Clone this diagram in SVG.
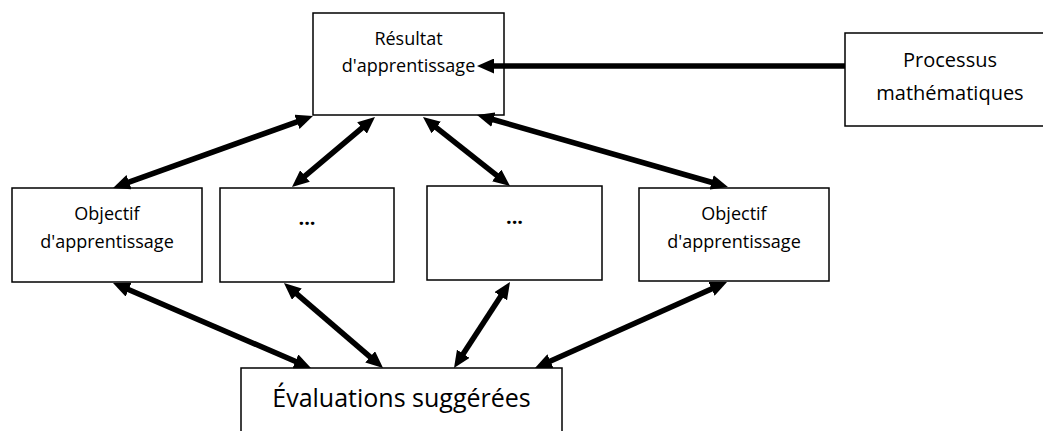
<svg xmlns="http://www.w3.org/2000/svg" width="1043" height="431" viewBox="0 0 1043 431">
<style>
.box{fill:#fff;stroke:#000;stroke-width:1.5}
.t{font-family:"Open Sans","Liberation Sans",sans-serif;font-size:18px;fill:#000;text-anchor:middle}
.dots{font-size:20px;font-weight:bold}
.c line{stroke:#000;stroke-width:5.5;marker-end:url(#ah)}
.c line.bi{marker-start:url(#ah)}
</style>
<defs>
<marker id="ah" viewBox="0 0 17 15" markerWidth="17" markerHeight="15" refX="6" refY="7.5" markerUnits="userSpaceOnUse" orient="auto-start-reverse">
<path d="M0,0 L17,7.5 L0,15 z" fill="#000"/>
</marker>
</defs>
<rect width="1043" height="431" fill="#fff"/>
<g id="resultat">
<rect class="box" x="313" y="13" width="191" height="102"/>
<text class="t" x="408.5" y="45">Résultat</text>
<text class="t" x="408.5" y="72">d'apprentissage</text>
</g>
<g id="processus">
<rect class="box" x="845" y="33" width="215" height="93"/>
<text class="t" x="950" y="67" style="font-size:20px">Processus</text>
<text class="t" x="950" y="100" style="font-size:20px">mathématiques</text>
</g>
<g id="objectif1">
<rect class="box" x="12" y="188" width="190" height="94"/>
<text class="t" x="107" y="220">Objectif</text>
<text class="t" x="107" y="248">d'apprentissage</text>
</g>
<g id="autre1">
<rect class="box" x="220" y="188" width="174" height="94"/>
<text class="t dots" x="307" y="225">...</text>
</g>
<g id="autre2">
<rect class="box" x="427" y="186" width="175" height="94"/>
<text class="t dots" x="514.5" y="224">...</text>
</g>
<g id="objectif2">
<rect class="box" x="639" y="188" width="190" height="93"/>
<text class="t" x="734" y="220">Objectif</text>
<text class="t" x="734" y="248">d'apprentissage</text>
</g>
<g id="evaluations">
<rect class="box" x="241" y="368" width="321" height="80"/>
<text class="t" x="401.5" y="407" style="font-size:25px">Évaluations suggérées</text>
</g>
<g id="connectors" class="c">
<line x1="845" y1="66" x2="488" y2="66"/>
<line class="bi" x1="302.6" y1="119.8" x2="123.4" y2="184.2"/>
<line class="bi" x1="366.6" y1="124.1" x2="300.4" y2="179.9"/>
<line class="bi" x1="431.6" y1="123.8" x2="501.4" y2="179.2"/>
<line class="bi" x1="487.6" y1="118.0" x2="717.4" y2="184.0"/>
<line class="bi" x1="123.1" y1="287.3" x2="300.9" y2="363.7"/>
<line class="bi" x1="292.3" y1="290.2" x2="374.7" y2="360.8"/>
<line class="bi" x1="504.0" y1="291.2" x2="460.0" y2="358.8"/>
<line class="bi" x1="717.0" y1="286.5" x2="545.0" y2="363.5"/>
</g>
</svg>
